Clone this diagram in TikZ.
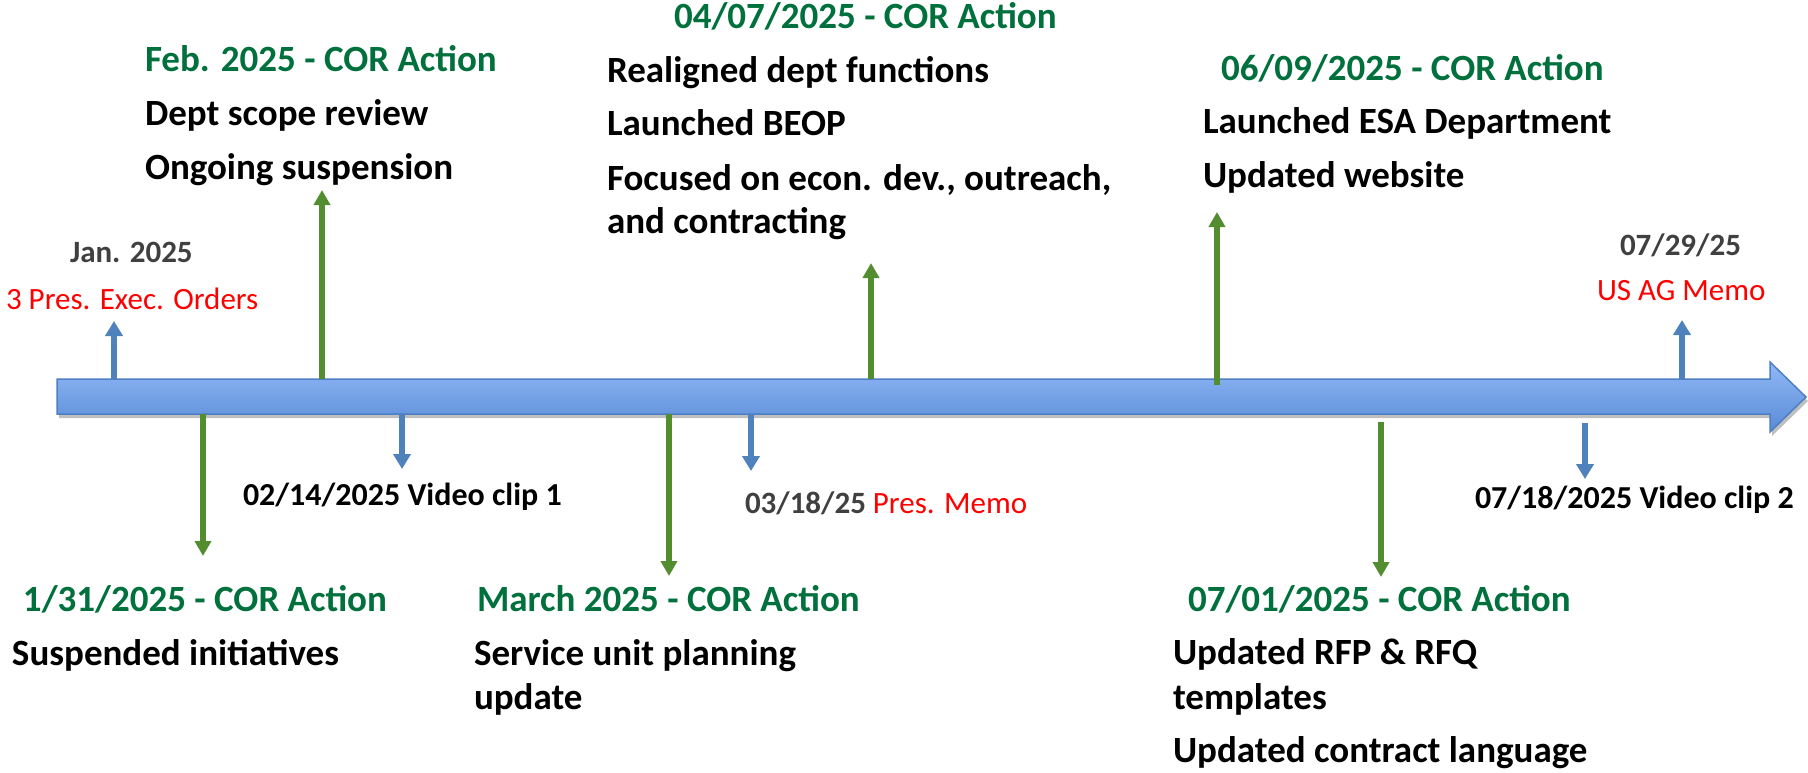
\documentclass[tikz,border=0pt]{standalone}
\usepackage{fontspec}
\setmainfont{Carlito}
\usetikzlibrary{arrows.meta,shadows}
\definecolor{hdgreen}{RGB}{0,112,60}
\definecolor{arrgreen}{RGB}{84,140,48}
\definecolor{arrblue}{RGB}{79,129,189}
\definecolor{bartop}{RGB}{145,184,246}
\definecolor{barbot}{RGB}{88,139,214}
\definecolor{barline}{RGB}{78,126,196}
\definecolor{dgray}{RGB}{64,64,64}
\begin{document}
\begin{tikzpicture}[x=1pt,y=-1pt,
  txt/.style={anchor=base west, inner sep=0pt, outer sep=0pt},
  big/.style={txt, font=\fontsize{37}{44}\selectfont\bfseries},
  headtxt/.style={big, text=hdgreen},
  bodytxt/.style={big, text=black},
  smalltxt/.style={txt, font=\fontsize{31}{37}\selectfont\bfseries, text=black},
  cliptxt/.style={txt, font=\fontsize{32}{38}\selectfont\bfseries, text=black},
  datetxt/.style={smalltxt, text=dgray},
  redtxt/.style={txt, font=\fontsize{31}{37}\selectfont, text=red},
  garrow/.style={draw=arrgreen, line width=5.5pt, -{Triangle[width=16pt,length=15pt]}},
  barrow/.style={draw=arrblue, line width=6pt, -{Triangle[width=17pt,length=15pt]}}
]
\useasboundingbox (0,0) rectangle (1808,772);
\fill[white] (0,0) rectangle (1808,772);

% main timeline arrow
\path[draw=barline, line width=1.5pt, top color=bartop, bottom color=barbot,
      drop shadow={shadow xshift=2pt, shadow yshift=-4pt, opacity=0.25, fill=black}]
  (57,379) -- (1770,379) -- (1770,362) -- (1806,397) -- (1770,432) -- (1770,414) -- (57,414) -- cycle;

% coordinates for connectors
\coordinate (janS) at (114,379);  \coordinate (janE) at (114,321);
\coordinate (febS) at (322,379);  \coordinate (febE) at (322,190);
\coordinate (aprS) at (871,379);  \coordinate (aprE) at (871,263);
\coordinate (junS) at (1217,385); \coordinate (junE) at (1217,212);
\coordinate (julS) at (1682,379); \coordinate (julE) at (1682,320);
\coordinate (j31S) at (203,414);  \coordinate (j31E) at (203,556);
\coordinate (f14S) at (402,414);  \coordinate (f14E) at (402,469);
\coordinate (marS) at (669,414);  \coordinate (marE) at (669,576);
\coordinate (m18S) at (751,414);  \coordinate (m18E) at (751,471);
\coordinate (j01S) at (1381,422); \coordinate (j01E) at (1381,577);
\coordinate (j18S) at (1585,423); \coordinate (j18E) at (1585,479);

\draw[barrow] (janS) -- (janE);
\draw[garrow] (febS) -- (febE);
\draw[garrow] (aprS) -- (aprE);
\draw[garrow] (junS) -- (junE);
\draw[barrow] (julS) -- (julE);
\draw[garrow] (j31S) -- (j31E);
\draw[barrow] (f14S) -- (f14E);
\draw[garrow] (marS) -- (marE);
\draw[barrow] (m18S) -- (m18E);
\draw[garrow] (j01S) -- (j01E);
\draw[barrow] (j18S) -- (j18E);

% top texts
\node[datetxt] (jan) at (70,262) {Jan. 2025};
\node[redtxt] (eo) at (6,309) {3 Pres. Exec. Orders};

\node[headtxt] (febh) at (145,71) {Feb. 2025 - COR Action};
\node[bodytxt] (feb1) at (145,125) {Dept scope review};
\node[bodytxt] (feb2) at (145,179) {Ongoing suspension};

\node[headtxt] (aprh) at (674,28) {04/07/2025 - COR Action};
\node[bodytxt] (apr1) at (607,82) {Realigned dept functions};
\node[bodytxt] (apr2) at (607,135) {Launched BEOP};
\node[bodytxt] (apr3) at (607,190) {Focused on econ. dev., outreach,};
\node[bodytxt] (apr4) at (607,233) {and contracting};

\node[headtxt] (junh) at (1221,80) {06/09/2025 - COR Action};
\node[bodytxt] (jun1) at (1203,133) {Launched ESA Department};
\node[bodytxt] (jun2) at (1203,187) {Updated website};

\node[datetxt] (agd) at (1620,255) {07/29/25};
\node[redtxt] (ag) at (1597,300) {US AG Memo};

% bottom texts
\node[cliptxt] (v1) at (243,505) {02/14/2025 Video clip 1};
\node[txt, font=\fontsize{31}{37}\selectfont] (pm) at (745,513)
  {\textbf{\color{dgray}03/18/25} \color{red}Pres. Memo};
\node[cliptxt] (v2) at (1475,508) {07/18/2025 Video clip 2};

\node[headtxt] (j31h) at (23,611) {1/31/2025 - COR Action};
\node[bodytxt] (j31a) at (12,665) {Suspended initiatives};

\node[headtxt] (marh) at (477,611) {March 2025 - COR Action};
\node[bodytxt] (mar1) at (474,665) {Service unit planning};
\node[bodytxt] (mar2) at (474,709) {update};

\node[headtxt] (j01h) at (1188,611) {07/01/2025 - COR Action};
\node[bodytxt] (j01a) at (1173,664) {Updated RFP \& RFQ};
\node[bodytxt] (j01b) at (1173,709) {templates};
\node[bodytxt] (j01c) at (1173,762) {Updated contract language};
\end{tikzpicture}
\end{document}
